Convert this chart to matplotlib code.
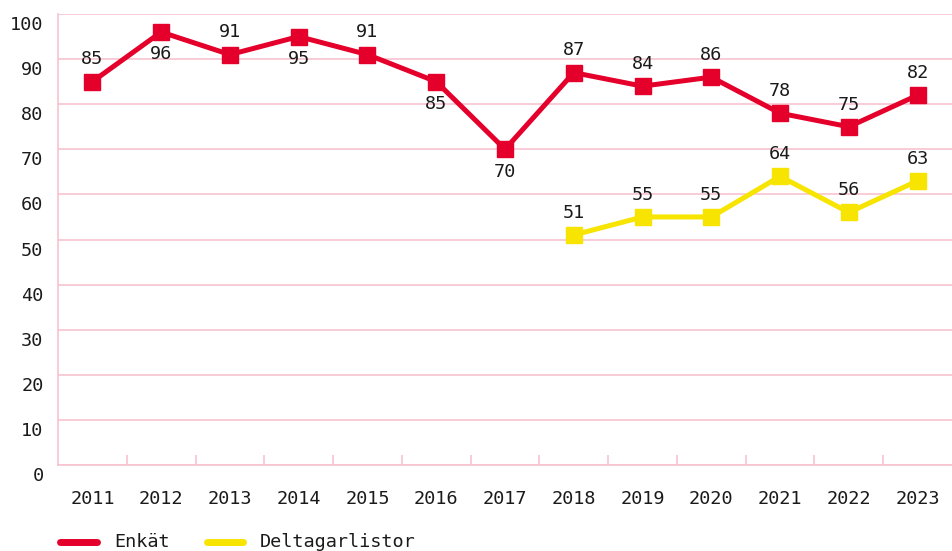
import matplotlib
matplotlib.use("Agg")
import matplotlib.pyplot as plt
from matplotlib.lines import Line2D
from matplotlib.transforms import ScaledTranslation

years = ["2011", "2012", "2013", "2014", "2015", "2016", "2017", "2018", "2019", "2020", "2021", "2022", "2023"]
enkat = [85, 96, 91, 95, 91, 85, 70, 87, 84, 86, 78, 75, 82]
enkat_pos = ["above", "below", "above", "below", "above", "below", "below", "above", "above", "above", "above", "above", "above"]
delt_years = ["2018", "2019", "2020", "2021", "2022", "2023"]
delt = [51, 55, 55, 64, 56, 63]
yticks = [0, 10, 20, 30, 40, 50, 60, 70, 80, 90, 100]
legend_labels = ["Enkät", "Deltagarlistor"]

RED = "#E4002B"
YEL = "#F7E400"
GRID = "#F7C3CF"
TXT = "#1a1a1a"
FONT = "DejaVu Sans Mono"
FS = 13.3

plt.rcParams["font.family"] = [FONT]
W, H = 952, 551
fig = plt.figure(figsize=(W/100, H/100), dpi=100)
ax = fig.add_axes([58/W, 1-465/H, 1-58/W, (465-14)/H])

x = list(range(len(years)))
xd = [years.index(y) for y in delt_years]

ax.plot(x, enkat, color=RED, lw=3.6, marker="s", ms=11.5, solid_joinstyle="miter", zorder=3, clip_on=False)
ax.plot(xd, delt, color=YEL, lw=3.6, marker="s", ms=11.5, solid_joinstyle="miter", zorder=3, clip_on=False)

for xi, v, p in zip(x, enkat, enkat_pos):
    off = 16 if p == "above" else -16
    ax.annotate(str(v), (xi, v), xytext=(0, off), textcoords="offset points",
                ha="center", va="center", fontsize=FS, color=TXT)
for xi, v in zip(xd, delt):
    ax.annotate(str(v), (xi, v), xytext=(0, 16), textcoords="offset points",
                ha="center", va="center", fontsize=FS, color=TXT)

ax.set_xlim(-0.5, len(years) - 0.5)
ax.set_ylim(0, 100)
ax.set_yticks(yticks)
ax.set_yticklabels([str(t) for t in yticks], fontsize=FS, color=TXT)
ax.yaxis.grid(True, color=GRID, lw=1.2)
ax.set_axisbelow(True)
ax.tick_params(axis="y", length=0, pad=10.5)
shift = ScaledTranslation(0, -9/100, fig.dpi_scale_trans)
for lab in ax.get_yticklabels():
    lab.set_transform(lab.get_transform() + shift)

ax.set_xticks(x)
ax.set_xticklabels(years, fontsize=FS, color=TXT)
ax.tick_params(axis="x", length=0, pad=18)
ax.set_xticks([i + 0.5 for i in range(len(years) - 1)], minor=True)
ax.tick_params(axis="x", which="minor", direction="in", length=7.5, color=GRID, width=1.2)

for s in ["top", "right"]:
    ax.spines[s].set_visible(False)
for s in ["left", "bottom"]:
    ax.spines[s].set_color(GRID)
    ax.spines[s].set_linewidth(1.2)

# legend
ly = 1 - 542/H
for (x0, x1, tx), col, lab in zip([(60, 97, 114), (207, 243, 260)], [RED, YEL], legend_labels):
    fig.add_artist(Line2D([x0/W, x1/W], [ly, ly], color=col, lw=5, solid_capstyle="round",
                          transform=fig.transFigure))
    fig.text(tx/W, ly, lab, fontsize=FS, color=TXT, va="center", ha="left")

fig.savefig("out.png", dpi=100)
